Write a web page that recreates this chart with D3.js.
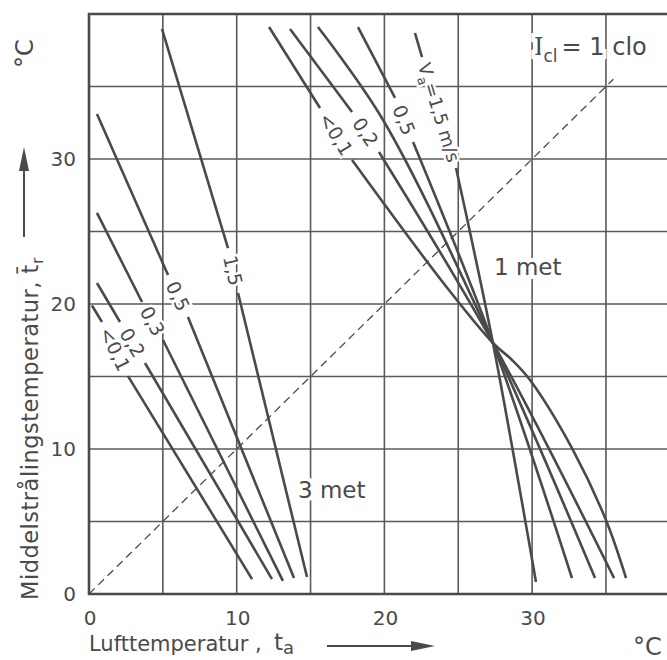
<!DOCTYPE html>
<html>
<head>
<meta charset="utf-8">
<script src="https://cdn.jsdelivr.net/npm/d3@7"></script>
<style>
  body { margin: 0; background: #fff; }
  svg { display: block; font-family: "DejaVu Sans", sans-serif; }
</style>
</head>
<body>
<svg id="chart" width="667" height="660"></svg>
<script>
// Comfort lines (PMV = 0), I_cl = 1 clo — ta (air) vs tr (mean radiant), °C
const xTicks = [0, 10, 20, 30];
const yTicks = [0, 10, 20, 30];
const gridValues = [5, 10, 15, 20, 25, 30, 35];

// 3 met group: segment before label / after label
const met3Labels = ["<0,1", "0,2", "0,3", "0,5", "1,5"];
const met3Upper = [
  [[0.2, 19.9], [0.88, 18.76]],
  [[0.54, 21.45], [2.1, 18.76]],
  [[0.54, 26.28], [3.59, 20.14]],
  [[0.54, 33.1], [5.35, 22.0]],
  [[4.94, 38.97], [9.41, 23.86]]
];
const met3Lower = [
  [[2.64, 15.03], [11.04, 1.03]],
  [[3.79, 15.93], [12.39, 1.03]],
  [[5.01, 17.52], [13.13, 0.9]],
  [[6.7, 19.1], [13.88, 1.1]],
  [[10.09, 20.76], [14.76, 1.17]]
];

// 1 met group
const met1Labels = ["<0,1", "0,2", "", "0,5", "Va=1,5 m/s"];
const met1Upper = [
  [[12.19, 39.1], [15.64, 33.52]],
  [[13.61, 38.97], [17.81, 33.24]],
  [[15.5, 39.1], [19.91, 32.69]],
  [[18.21, 39.1], [20.72, 34.21]],
  [[22.07, 38.69], [22.55, 37.03]]
];
const met1Lower = [
  [[17.81, 29.93], [24.1, 21.31], [27.35, 17.31], [28.64, 16.14], [29.86, 14.76], [32.77, 9.93], [35.0, 5.1], [36.36, 1.1]],
  [[19.63, 30.48], [27.35, 17.31], [35.55, 1.1]],
  [[19.91, 32.69], [27.35, 17.31], [34.26, 1.1]],
  [[21.94, 31.17], [27.35, 17.31], [32.7, 1.1]],
  [[24.85, 29.38], [27.35, 17.31], [30.26, 0.83]]
];

const equalLine = [[0, 0], [35.5, 35.5]];

const ink = "#4a4a4a";
const svg = d3.select("#chart");

const x = d3.scaleLinear().domain([0, 40]).range([89, 89 + 40 * 14.77]);
const y = d3.scaleLinear().domain([0, 40]).range([594, 14]);

const line = d3.line()
  .x(d => x(d[0]))
  .y(d => y(d[1]))
  .curve(d3.curveCatmullRom.alpha(0.5));

// grid
const grid = svg.append("g").attr("stroke", "#5a5a5a").attr("stroke-width", 1.6);
grid.selectAll(".vg").data(gridValues).enter().append("line")
  .attr("x1", d => x(d)).attr("x2", d => x(d))
  .attr("y1", y(0)).attr("y2", y(40));
grid.selectAll(".hg").data(gridValues).enter().append("line")
  .attr("x1", x(0)).attr("x2", 667)
  .attr("y1", d => y(d)).attr("y2", d => y(d));

// frame (left, top, bottom)
svg.append("path")
  .attr("d", `M667,${y(40)}H${x(0)}V${y(0)}H667`)
  .attr("fill", "none").attr("stroke", ink).attr("stroke-width", 2.6);

// dashed ta = tr line
svg.append("path")
  .attr("d", d3.line().x(d => x(d[0])).y(d => y(d[1]))(equalLine))
  .attr("fill", "none").attr("stroke", ink).attr("stroke-width", 1.3)
  .attr("stroke-dasharray", "8,5");

function drawGroup(labels, upper, lower) {
  const g = svg.append("g");
  labels.forEach((lab, i) => {
    const segs = lab ? [upper[i], lower[i]] : [upper[i].concat(lower[i].slice(1))];
    segs.forEach(s => {
      g.append("path").attr("d", line(s))
        .attr("fill", "none").attr("stroke", ink).attr("stroke-width", 2.6);
    });
    if (!lab) return;
    const a = upper[i][upper[i].length - 1], b = lower[i][0];
    const ax = x(a[0]), ay = y(a[1]), bx = x(b[0]), by = y(b[1]);
    const ang = Math.atan2(by - ay, bx - ax) * 180 / Math.PI;
    const t = g.append("text")
      .attr("transform", `translate(${(ax + bx) / 2},${(ay + by) / 2}) rotate(${ang})`)
      .attr("text-anchor", "middle").attr("dy", "0.36em")
      .attr("font-size", 19).attr("fill", ink)
      .attr("stroke", "#fff").attr("stroke-width", 5).attr("paint-order", "stroke");
    if (lab.startsWith("Va")) {
      t.attr("font-size", 18);
      t.append("tspan").text("V");
      t.append("tspan").attr("font-size", 13).attr("dy", 5).text("a");
      t.append("tspan").attr("dy", -5).text(lab.slice(2));
    } else {
      t.text(lab);
    }
  });
}
drawGroup(met3Labels, met3Upper, met3Lower);
drawGroup(met1Labels, met1Upper, met1Lower);

// tick labels
svg.selectAll(".xt").data(xTicks).enter().append("text")
  .attr("x", d => x(d) + 1).attr("y", 625)
  .attr("text-anchor", "middle").attr("font-size", 20).attr("fill", ink)
  .text(d => d);
svg.selectAll(".yt").data(yTicks).enter().append("text")
  .attr("x", 76).attr("y", d => y(d)).attr("dy", "0.36em")
  .attr("text-anchor", "end").attr("font-size", 20).attr("fill", ink)
  .text(d => d);

// big labels with white knock-out
function label(txt, px, py, size) {
  return svg.append("text").attr("x", px).attr("y", py)
    .attr("font-size", size).attr("fill", ink)
    .attr("stroke", "#fff").attr("stroke-width", 8).attr("paint-order", "stroke")
    .text(txt);
}
label("1 met", 494, 275, 23);
label("3 met", 298, 498, 23);

const icl = svg.append("text").attr("x", 534).attr("y", 55)
  .attr("font-size", 24).attr("fill", ink)
  .attr("stroke", "#fff").attr("stroke-width", 8).attr("paint-order", "stroke");
icl.append("tspan").attr("font-family", "DejaVu Serif").text("I");
icl.append("tspan").attr("font-size", 17).attr("dy", 7).text("cl");
icl.append("tspan").attr("dy", -7).attr("dx", 4).text("= 1 clo");

// axis titles
const yt = svg.append("text")
  .attr("transform", "translate(38,600) rotate(-90)")
  .attr("font-size", 22.5).attr("letter-spacing", 0.5).attr("fill", ink);
yt.append("tspan").text("Middelstrålingstemperatur, ");
yt.append("tspan").text("t\u0304");
yt.append("tspan").attr("font-size", 16).attr("dy", 5).text("r");

svg.append("text")
  .attr("transform", "translate(33,68) rotate(-90)")
  .attr("font-size", 24).attr("fill", ink).text("°C");

svg.append("text").attr("x", 89).attr("y", 651)
  .attr("font-size", 21).attr("fill", ink).text("Lufttemperatur ,");
const xtTitle = svg.append("text").attr("x", 274).attr("y", 650)
  .attr("font-size", 23).attr("fill", ink);
xtTitle.append("tspan").text("t");
xtTitle.append("tspan").attr("font-size", 18).attr("dy", 4).text("a");

svg.append("text").attr("x", 633).attr("y", 655)
  .attr("font-size", 24).attr("fill", ink).text("°C");

// arrows
svg.append("line").attr("x1", 24).attr("y1", 237).attr("x2", 24).attr("y2", 165)
  .attr("stroke", ink).attr("stroke-width", 2);
svg.append("path").attr("d", "M24,147L29,171L19,171Z").attr("fill", ink);
svg.append("line").attr("x1", 327).attr("y1", 646).attr("x2", 415).attr("y2", 646)
  .attr("stroke", ink).attr("stroke-width", 2);
svg.append("path").attr("d", "M435,646L411,641L411,651Z").attr("fill", ink);
</script>
</body>
</html>
